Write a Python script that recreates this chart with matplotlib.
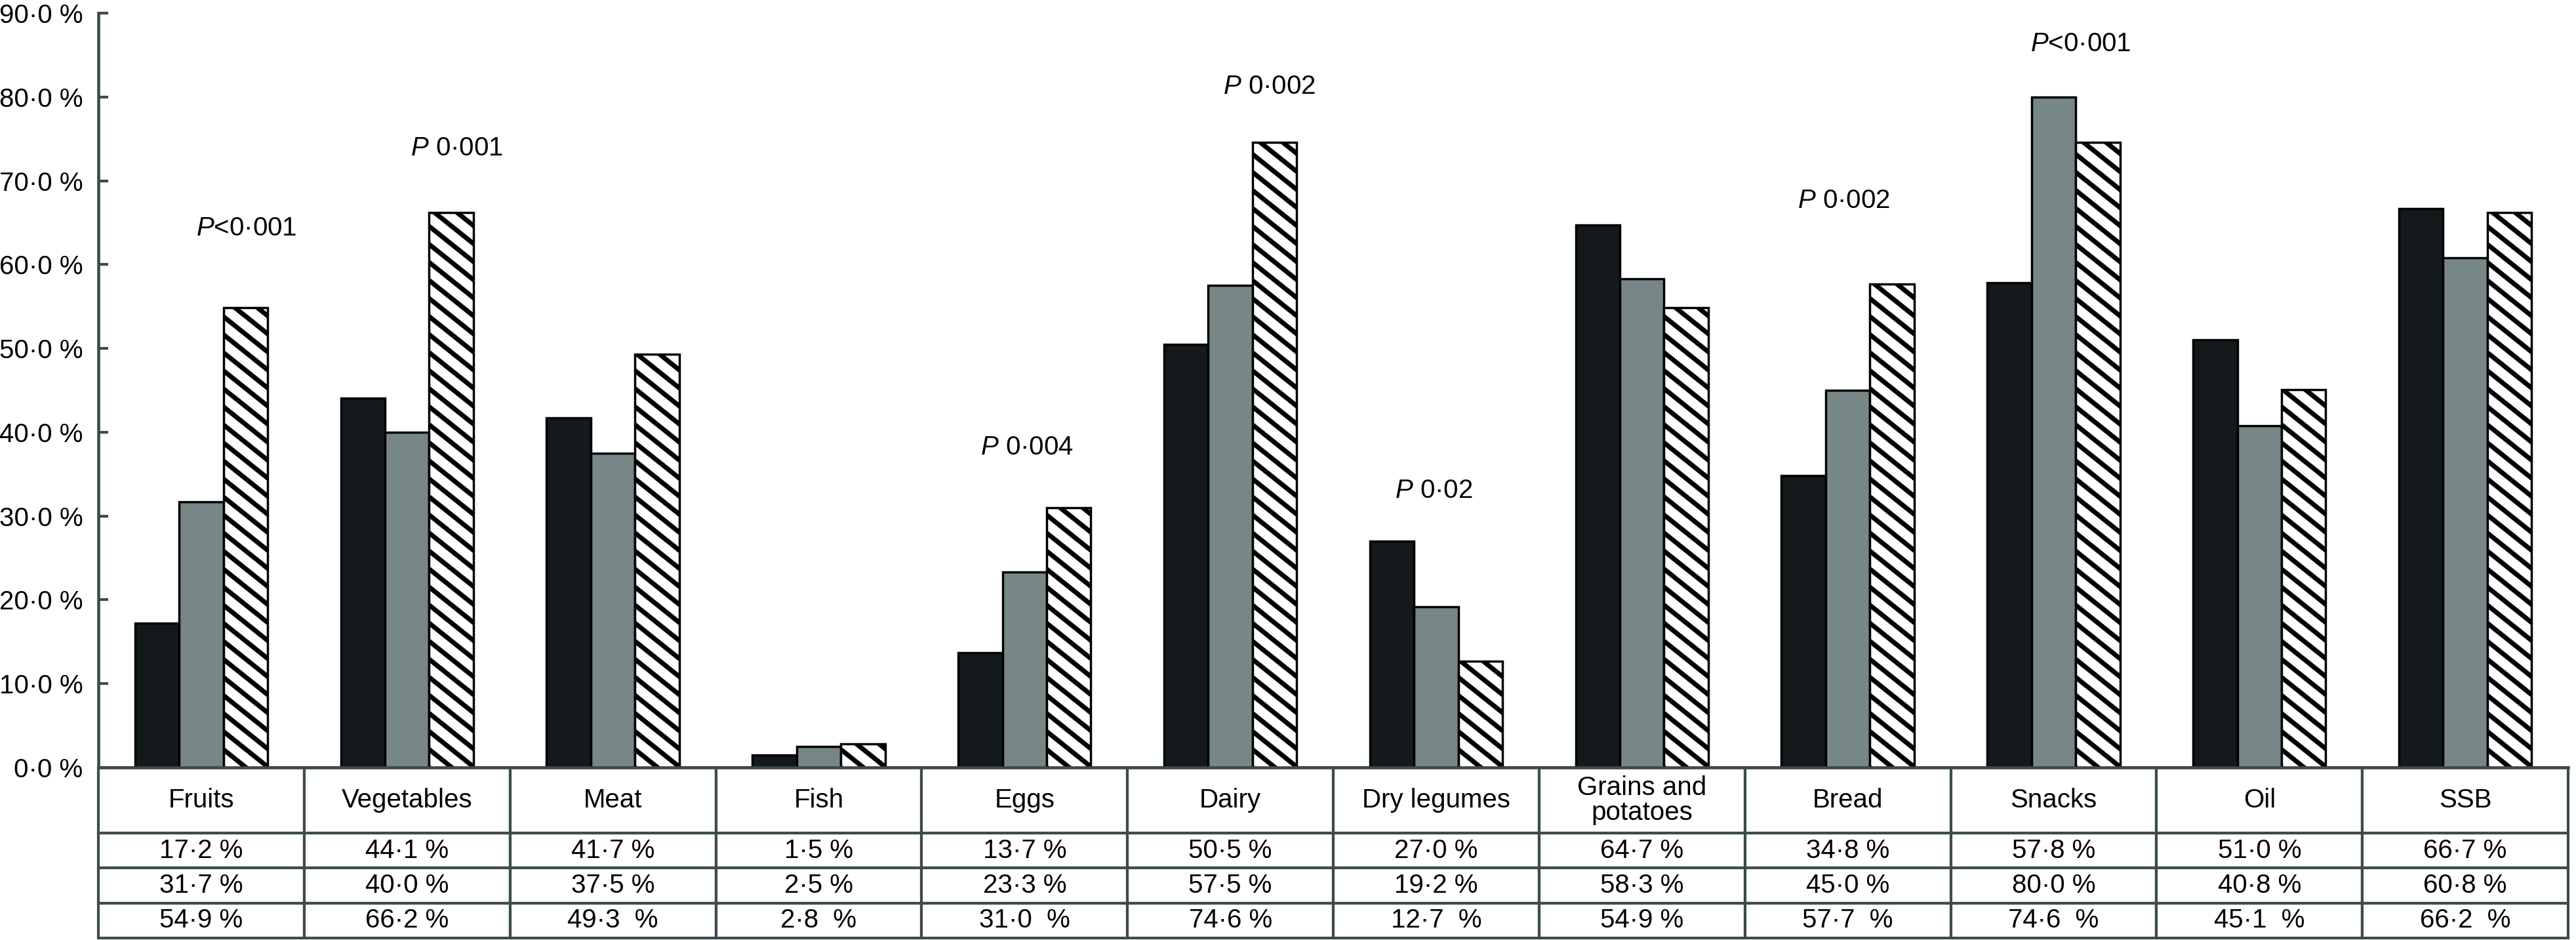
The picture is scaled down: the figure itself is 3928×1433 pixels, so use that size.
import matplotlib
matplotlib.use("Agg")
import matplotlib.pyplot as plt
import numpy as np
from matplotlib.collections import LineCollection

plt.rcParams['font.family'] = ['Liberation Sans', 'DejaVu Sans']
plt.rcParams['mathtext.fontset'] = 'custom'
plt.rcParams['mathtext.it'] = 'Liberation Sans:italic'
plt.rcParams['mathtext.rm'] = 'Liberation Sans'

# data (percent of children consuming each food group)
categories = ["Fruits", "Vegetables", "Meat", "Fish", "Eggs", "Dairy", "Dry legumes",
              "Grains and\npotatoes", "Bread", "Snacks", "Oil", "SSB"]
group1 = [17.2, 44.1, 41.7, 1.5, 13.7, 50.5, 27.0, 64.7, 34.8, 57.8, 51.0, 66.7]
group2 = [31.7, 40.0, 37.5, 2.5, 23.3, 57.5, 19.2, 58.3, 45.0, 80.0, 40.8, 60.8]
group3 = [54.9, 66.2, 49.3, 2.8, 31.0, 74.6, 12.7, 54.9, 57.7, 74.6, 45.1, 66.2]
# the printed third row has a wider gap before "%" in some cells
group3_gap = [1, 1, 2, 2, 2, 1, 2, 1, 2, 2, 2, 2]

p_labels = [r"$\mathit{P}$<0·001", r"$\mathit{P}$ 0·001", r"$\mathit{P}$ 0·004",
            r"$\mathit{P}$ 0·002", r"$\mathit{P}$ 0·02", r"$\mathit{P}$ 0·002",
            r"$\mathit{P}$<0·001"]

yticks = [0, 10, 20, 30, 40, 50, 60, 70, 80, 90]

# annotation placement (x in column units, y in %)
p_x = [0.72, 1.74, 4.51, 5.69, 6.49, 8.48, 9.63]
p_y = [64.3, 73.9, 38.2, 81.2, 33.0, 67.6, 86.3]

BLACK = "#141a1b"
GREY = "#778686"
LINE = "#3d4b4b"
FS = 29

W, H = 3928, 1433
fig = plt.figure(figsize=(W / 100, H / 100), dpi=100)
ax = fig.add_axes([150 / W, 1 - 1170 / H, (3916 - 150) / W, (1170 - 20) / H])

n = len(categories)
x = np.arange(n) + 0.5
bw = 0.215

ax.bar(x - bw, group1, bw, color=BLACK, edgecolor="black", linewidth=2.5, zorder=2)
ax.bar(x, group2, bw, color=GREY, edgecolor="black", linewidth=2.5, zorder=2)
hb = ax.bar(x + bw, group3, bw, color="white", edgecolor="none", linewidth=0, zorder=2)
ax.bar(x + bw, group3, bw, facecolor="none", edgecolor="black", linewidth=2.5, zorder=3)

ax.set_xlim(0, n)
ax.set_ylim(0, 90)
ax.set_yticks(yticks)
ax.set_yticklabels([f"{t}·0 %" for t in yticks], fontsize=FS)
ax.tick_params(axis="y", direction="in", length=11, width=3, color=LINE, pad=17)
ax.set_xticks([])
for s in ["top", "right"]:
    ax.spines[s].set_visible(False)
for s in ["left", "bottom"]:
    ax.spines[s].set_color(LINE)
    ax.spines[s].set_linewidth(3.3)
ax.spines["bottom"].set_zorder(4)

# diagonal stripes for the third group, drawn in pixel space then clipped
fig.canvas.draw()
inv = ax.transData.inverted()
gap, slope = 27.5, 0.8
for b in hb:
    (px0, py0) = ax.transData.transform((b.get_x(), b.get_y()))
    (px1, py1) = ax.transData.transform((b.get_x() + b.get_width(), b.get_y() + b.get_height()))
    segs = []
    start = py0
    while start < py1 + slope * (px1 - px0) + gap:
        a = inv.transform((px0 - 5, start + slope * 5))
        c = inv.transform((px1 + 5, start - slope * (px1 - px0 + 5)))
        segs.append([a, c])
        start += gap
    lc = LineCollection(segs, colors="black", linewidths=5.2, zorder=2.5)
    ax.add_collection(lc)
    lc.set_clip_path(b)

for lab, xi, yi in zip(p_labels, p_x, p_y):
    ax.text(xi, yi, lab, ha="center", va="center", fontsize=FS)

# table under the bars
row1 = [f"{v:.1f}".replace(".", "·") + " %" for v in group1]
row2 = [f"{v:.1f}".replace(".", "·") + " %" for v in group2]
row3 = [f"{v:.1f}".replace(".", "·") + " " * g + "%" for v, g in zip(group3, group3_gap)]

tab_h = 260 / 1150
tbl = ax.table(cellText=[row1, row2, row3], colLabels=categories, cellLoc="center",
               bbox=[0, -tab_h, 1, tab_h])
tbl.auto_set_font_size(False)
tbl.set_fontsize(FS)
for (r, c), cell in tbl.get_celld().items():
    cell.set_edgecolor(LINE)
    cell.set_linewidth(3)
    cell.set_height(100 if r == 0 else 53.3)
    cell.get_text().set_linespacing(1.0)

fig.savefig("out.png", dpi=100)
